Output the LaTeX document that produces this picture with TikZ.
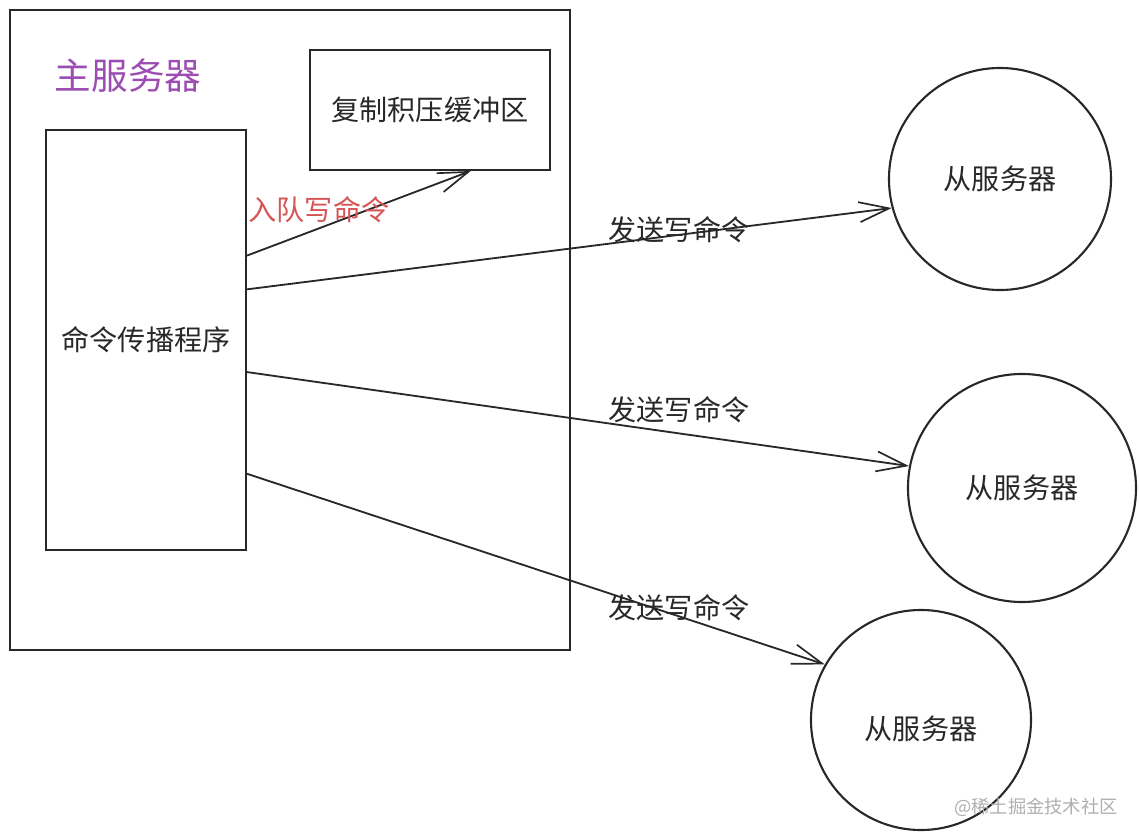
\documentclass[tikz,border=0pt]{standalone}
\usepackage{fontspec}
\setmainfont{Noto Sans CJK SC}
\usetikzlibrary{arrows.meta,calc}
\definecolor{inkgray}{RGB}{40,40,40}
\definecolor{titlepurple}{RGB}{156,77,178}
\definecolor{queuered}{RGB}{214,84,84}
\definecolor{markgray}{RGB}{175,175,175}
\tikzset{
	box/.style={draw=inkgray, line width=1.4pt, rectangle, inner sep=0pt},
	slave/.style={draw=inkgray, line width=1.5pt, circle, inner sep=0pt, text=inkgray, font=\fontsize{20}{24}\selectfont},
	txt/.style={text=inkgray, font=\fontsize{20}{24}\selectfont},
	send/.style={draw=inkgray, line width=1.3pt, -{Straight Barb[length=7.5mm,width=5mm,line width=1.2pt]}},
}

\begin{document}
\begin{tikzpicture}[x=0.025cm, y=-0.025cm]
			%%%%% START %%%%%
			\useasboundingbox (0,0) rectangle (1140,840);
			
			\node[box, minimum width=14cm, minimum height=16cm] (master) at (290,330) {};
			\node[text=titlepurple, font=\fontsize{26}{30}\selectfont] (title) at (128,76) {主服务器};
			
			\node[box, txt, minimum width=6cm, minimum height=3cm] (buf) at (430,110) {复制积压缓冲区};
			\node[box, txt, minimum width=5cm, minimum height=10.5cm] (prog) at (146,340) {命令传播程序};
			
			\node[slave, minimum size=5.55cm] (s1) at (1000,179) {从服务器};
			\node[slave, minimum size=5.7cm] (s2) at (1022,488) {从服务器};
			\node[slave, minimum size=5.5cm, text height=30pt] (s3) at (921,720) {从服务器};
			
			\draw[send] ($(prog.north east)!0.30!(prog.south east)$) -- ($(buf.south west)!0.668!(buf.south east)$);
			\draw[send] ($(prog.north east)!0.38!(prog.south east)$) -- (s1.195);
			\draw[send] ($(prog.north east)!0.576!(prog.south east)$) -- (s2.169);
			\draw[send] ($(prog.north east)!0.817!(prog.south east)$) -- (s3.150);
			
			\node[text=queuered, font=\fontsize{20}{24}\selectfont] (enq) at (319,210) {入队写命令};
			\node[txt] (l1) at (679,230) {发送写命令};
			\node[txt] (l2) at (679,410) {发送写命令};
			\node[txt] (l3) at (679,608) {发送写命令};
			
			\node[text=markgray, font=\fontsize{13}{16}\selectfont] (mark) at (1036,807) {@稀土掘金技术社区};
			%%%%% END %%%%%
\end{tikzpicture}
\end{document}
